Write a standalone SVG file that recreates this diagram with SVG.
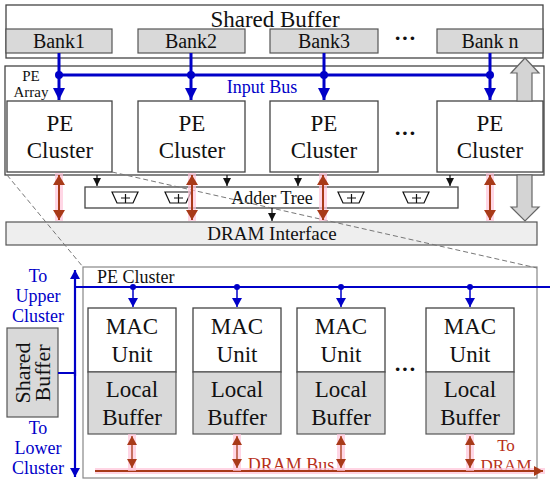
<svg xmlns="http://www.w3.org/2000/svg" width="550" height="484" viewBox="0 0 550 484" font-family="'Liberation Serif', 'Times New Roman', 'DejaVu Serif', serif">
<style>
text{font-family:'Liberation Serif','Times New Roman','DejaVu Serif',serif;fill:#111}
.box{fill:#fff;stroke:#444;stroke-width:1.3}
.gbox{fill:#d9d9d9;stroke:#555;stroke-width:1.2}
.big{font-size:23px}
.mid{font-size:18px}
.blue{fill:#0000c8}
.red{fill:#b8301a}
.bl{stroke:#0000c8;fill:none}
.halo{stroke:#ffc4da;stroke-width:8;opacity:0.7;fill:none}
.rd{stroke:#a83a18;stroke-width:2;fill:none}
.dash{stroke:#777;stroke-width:1;stroke-dasharray:5,3;fill:none}
</style>
<defs>
<marker id="ab" markerUnits="userSpaceOnUse" markerWidth="14" markerHeight="12" refX="12" refY="6" orient="auto"><path d="M0,0 L12,6 L0,12 z" fill="#0000c8"/></marker>
<marker id="abs" markerUnits="userSpaceOnUse" markerWidth="10" markerHeight="10" refX="9" refY="5" orient="auto"><path d="M0,0 L9,5 L0,10 z" fill="#0000c8"/></marker>
<marker id="ak" markerUnits="userSpaceOnUse" markerWidth="9" markerHeight="8" refX="8" refY="4" orient="auto"><path d="M0,0 L8,4 L0,8 z" fill="#111"/></marker>
<marker id="ar" markerUnits="userSpaceOnUse" markerWidth="12" markerHeight="12" refX="10" refY="6" orient="auto-start-reverse"><path d="M0,0 L10,6 L0,12 z" fill="#a83a18"/></marker>
<marker id="ars" markerUnits="userSpaceOnUse" markerWidth="10" markerHeight="10" refX="9" refY="5" orient="auto-start-reverse"><path d="M0,0 L9,5 L0,10 z" fill="#a83a18"/></marker>
<g id="adder"><polygon points="-13,0 13,0 8,11 -8,11" fill="#fff" stroke="#111" stroke-width="1.2"/><path d="M-4,6 H5 M0.5,2 V11" stroke="#111" stroke-width="1.2"/></g>
</defs>

<!-- Top Shared Buffer -->
<g id="shared-buffer">
<rect x="6" y="5" width="537" height="53" class="box" stroke="#666"/>
<text x="275" y="27" text-anchor="middle" class="big">Shared Buffer</text>
</g>
<g id="bank1"><rect x="6" y="29" width="106" height="24" class="gbox"/><text x="59" y="48" text-anchor="middle" font-size="20">Bank1</text></g>
<g id="bank2"><rect x="138" y="29" width="107" height="24" class="gbox"/><text x="191" y="48" text-anchor="middle" font-size="20">Bank2</text></g>
<g id="bank3"><rect x="270" y="29" width="108" height="24" class="gbox"/><text x="324" y="48" text-anchor="middle" font-size="20">Bank3</text></g>
<g id="bankn"><rect x="437" y="29" width="106" height="24" class="gbox"/><text x="490" y="48" text-anchor="middle" font-size="20">Bank n</text></g>
<text x="405" y="45" text-anchor="middle" font-size="22" font-weight="bold">···</text>

<!-- PE Array -->
<g id="pe-array">
<rect x="5" y="66" width="539" height="109" class="box" stroke="#222"/>
<text x="31" y="81" text-anchor="middle" font-size="15">PE</text>
<text x="31" y="97" text-anchor="middle" font-size="15">Array</text>
<text x="262" y="93" text-anchor="middle" class="mid blue">Input Bus</text>
</g>
<g id="pe-cluster1"><rect x="7" y="101" width="105" height="71" class="box" stroke="#222"/><text x="60" y="131" text-anchor="middle" class="big">PE</text><text x="60" y="158" text-anchor="middle" class="big">Cluster</text></g>
<g id="pe-cluster2"><rect x="138" y="101" width="107" height="71" class="box" stroke="#222"/><text x="192" y="131" text-anchor="middle" class="big">PE</text><text x="192" y="158" text-anchor="middle" class="big">Cluster</text></g>
<g id="pe-cluster3"><rect x="270" y="101" width="108" height="71" class="box" stroke="#222"/><text x="324" y="131" text-anchor="middle" class="big">PE</text><text x="324" y="158" text-anchor="middle" class="big">Cluster</text></g>
<g id="pe-cluster4"><rect x="437" y="101" width="106" height="71" class="box" stroke="#222"/><text x="490" y="131" text-anchor="middle" class="big">PE</text><text x="490" y="158" text-anchor="middle" class="big">Cluster</text></g>
<text x="405" y="140" text-anchor="middle" font-size="22" font-weight="bold">···</text>

<!-- Adder tree -->
<g id="adder-tree">
<rect x="85" y="187" width="373" height="21" class="box" stroke="#555"/>
<text x="272" y="204" text-anchor="middle" class="mid">Adder Tree</text>
<use href="#adder" x="125" y="192"/>
<use href="#adder" x="178" y="192"/>
<use href="#adder" x="351" y="192"/>
<use href="#adder" x="416" y="192"/>
</g>

<!-- DRAM interface -->
<g id="dram-interface">
<rect x="6" y="222" width="531" height="23" fill="#eeeeee" stroke="#555" stroke-width="1.2"/>
<text x="272" y="240" text-anchor="middle" font-size="19">DRAM Interface</text>
</g>

<!-- Lower PE Cluster detail -->
<g id="pe-cluster-detail">
<rect x="83" y="267" width="454" height="211" fill="#fff" stroke="#888" stroke-width="1.2"/>
<text x="97" y="283" font-size="18">PE Cluster</text>
</g>
<g id="shared-buffer-small">
<rect x="7" y="328" width="51" height="89" class="gbox"/>
<text transform="translate(30,373) rotate(-90)" text-anchor="middle" font-size="22">Shared</text>
<text transform="translate(50,373) rotate(-90)" text-anchor="middle" font-size="22">Buffer</text>
</g>
<text x="38" y="282" text-anchor="middle" font-size="18" class="blue">To</text>
<text x="38" y="302" text-anchor="middle" font-size="18" class="blue">Upper</text>
<text x="38" y="322" text-anchor="middle" font-size="18" class="blue">Cluster</text>
<text x="38" y="434" text-anchor="middle" font-size="18" class="blue">To</text>
<text x="38" y="454" text-anchor="middle" font-size="18" class="blue">Lower</text>
<text x="38" y="474" text-anchor="middle" font-size="18" class="blue">Cluster</text>

<g id="mac1"><rect x="88" y="308" width="88" height="64" class="box" stroke="#333"/><rect x="88" y="372" width="88" height="62" class="gbox" stroke="#333"/><text x="132" y="334" text-anchor="middle" class="big">MAC</text><text x="132" y="362" text-anchor="middle" class="big">Unit</text><text x="132" y="397" text-anchor="middle" class="big">Local</text><text x="132" y="425" text-anchor="middle" class="big">Buffer</text></g>
<g id="mac2"><rect x="193" y="308" width="88" height="64" class="box" stroke="#333"/><rect x="193" y="372" width="88" height="62" class="gbox" stroke="#333"/><text x="237" y="334" text-anchor="middle" class="big">MAC</text><text x="237" y="362" text-anchor="middle" class="big">Unit</text><text x="237" y="397" text-anchor="middle" class="big">Local</text><text x="237" y="425" text-anchor="middle" class="big">Buffer</text></g>
<g id="mac3"><rect x="297" y="308" width="88" height="64" class="box" stroke="#333"/><rect x="297" y="372" width="88" height="62" class="gbox" stroke="#333"/><text x="341" y="334" text-anchor="middle" class="big">MAC</text><text x="341" y="362" text-anchor="middle" class="big">Unit</text><text x="341" y="397" text-anchor="middle" class="big">Local</text><text x="341" y="425" text-anchor="middle" class="big">Buffer</text></g>
<g id="mac4"><rect x="426" y="308" width="88" height="64" class="box" stroke="#333"/><rect x="426" y="372" width="88" height="62" class="gbox" stroke="#333"/><text x="470" y="334" text-anchor="middle" class="big">MAC</text><text x="470" y="362" text-anchor="middle" class="big">Unit</text><text x="470" y="397" text-anchor="middle" class="big">Local</text><text x="470" y="425" text-anchor="middle" class="big">Buffer</text></g>
<text x="405" y="376" text-anchor="middle" font-size="22" font-weight="bold">···</text>
<text x="291" y="471" text-anchor="middle" class="mid red">DRAM Bus</text>
<text x="506" y="451" text-anchor="middle" font-size="17" class="red">To</text>
<text x="506" y="471" text-anchor="middle" font-size="17" class="red">DRAM</text>

<!-- Connectors -->
<g id="connectors">
<!-- dashed zoom lines -->
<path d="M7,175 L83,267" class="dash"/>
<path d="M112,172 L537,268" class="dash"/>

<!-- input bus -->
<path d="M59,75 H490" class="bl" stroke-width="3"/>
<path d="M59,53 V100" class="bl" stroke-width="3" marker-end="url(#ab)"/>
<path d="M191,53 V100" class="bl" stroke-width="3" marker-end="url(#ab)"/>
<path d="M324,53 V100" class="bl" stroke-width="3" marker-end="url(#ab)"/>
<path d="M490,53 V100" class="bl" stroke-width="3" marker-end="url(#ab)"/>
<g fill="#0000c8"><circle cx="59" cy="75" r="4"/><circle cx="191" cy="75" r="4"/><circle cx="324" cy="75" r="4"/><circle cx="490" cy="75" r="4"/></g>

<!-- gray big arrows -->
<polygon points="525,58 539,73 532,73 532,101 517,101 517,73 511,73" fill="#d4d4d4" stroke="#666" stroke-width="1.2"/>
<polygon points="517,175 532,175 532,207 539,207 525,221 511,207 517,207" fill="#d4d4d4" stroke="#666" stroke-width="1.2"/>

<!-- black arrows to adder tree -->
<path d="M97,175 V186" stroke="#111" stroke-width="1.2" marker-end="url(#ak)"/>
<path d="M227,175 V186" stroke="#111" stroke-width="1.2" marker-end="url(#ak)"/>
<path d="M298,175 V186" stroke="#111" stroke-width="1.2" marker-end="url(#ak)"/>
<path d="M450,175 V186" stroke="#111" stroke-width="1.2" marker-end="url(#ak)"/>
<path d="M272,208 V221" stroke="#111" stroke-width="1.2" marker-end="url(#ak)"/>

<!-- red DRAM arrows (top) -->
<path d="M59,173 V221" class="halo"/>
<path d="M192,173 V221" class="halo"/>
<path d="M323,173 V221" class="halo"/>
<path d="M490,173 V221" class="halo"/>
<path d="M59,175 V220" class="rd" marker-start="url(#ar)" marker-end="url(#ar)"/>
<path d="M192,175 V220" class="rd" marker-start="url(#ar)" marker-end="url(#ar)"/>
<path d="M323,175 V220" class="rd" marker-start="url(#ar)" marker-end="url(#ar)"/>
<path d="M490,175 V220" class="rd" marker-start="url(#ar)" marker-end="url(#ar)"/>

<!-- lower blue bus -->
<path d="M75,376 V270" class="bl" stroke-width="2.2" marker-end="url(#abs)"/>
<path d="M75,370 V477" class="bl" stroke-width="2.2" marker-end="url(#abs)"/>
<path d="M58,373 H75" class="bl" stroke-width="2"/>
<path d="M75,287 H550" class="bl" stroke-width="1.8"/>
<path d="M133,287 V307" class="bl" stroke-width="1.5" marker-end="url(#abs)"/>
<path d="M237,287 V307" class="bl" stroke-width="1.5" marker-end="url(#abs)"/>
<path d="M341,287 V307" class="bl" stroke-width="1.5" marker-end="url(#abs)"/>
<path d="M470,287 V307" class="bl" stroke-width="1.5" marker-end="url(#abs)"/>
<g fill="#0000c8"><circle cx="133" cy="287" r="3"/><circle cx="237" cy="287" r="3"/><circle cx="341" cy="287" r="3"/><circle cx="470" cy="287" r="3"/></g>

<!-- DRAM bus -->
<path d="M95,471 H545" stroke="#ffc4da" stroke-width="6" opacity="0.7"/>
<path d="M95,471 H543" class="rd" marker-end="url(#ars)"/>
<path d="M132,434 V471" class="halo" stroke-width="7"/>
<path d="M237,434 V471" class="halo" stroke-width="7"/>
<path d="M341,434 V471" class="halo" stroke-width="7"/>
<path d="M470,434 V471" class="halo" stroke-width="7"/>
<path d="M132,436 V468" stroke="#a83a18" stroke-width="1.3" marker-start="url(#ars)" marker-end="url(#ars)"/>
<path d="M237,436 V468" stroke="#a83a18" stroke-width="1.3" marker-start="url(#ars)" marker-end="url(#ars)"/>
<path d="M341,436 V468" stroke="#a83a18" stroke-width="1.3" marker-start="url(#ars)" marker-end="url(#ars)"/>
<path d="M470,436 V468" stroke="#a83a18" stroke-width="1.3" marker-start="url(#ars)" marker-end="url(#ars)"/>
</g>
</svg>
